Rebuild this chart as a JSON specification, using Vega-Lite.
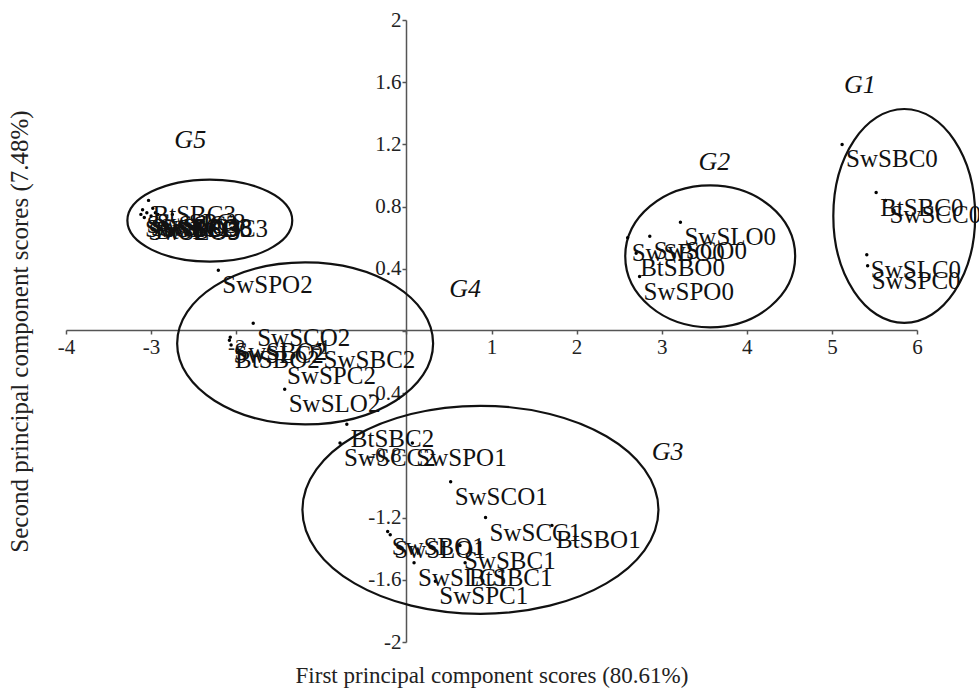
{
  "$schema": "https://vega.github.io/schema/vega-lite/v6.json",
  "width": 851,
  "height": 622,
  "autosize": "none",
  "padding": {"left": 66, "top": 20, "right": 62, "bottom": 55},
  "background": "white",
  "config": {"view": {"stroke": null}, "font": "Liberation Serif", "axis": {"labelFont": "Liberation Serif", "titleFont": "Liberation Serif"}},
  "datasets": {
    "points": [
      {"name": "SwSBC0", "pc1": 5.12, "pc2": 1.2},
      {"name": "BtSBC0", "pc1": 5.52, "pc2": 0.89},
      {"name": "SwSCC0", "pc1": 5.63, "pc2": 0.84},
      {"name": "SwSLC0", "pc1": 5.41, "pc2": 0.49},
      {"name": "SwSPC0", "pc1": 5.42, "pc2": 0.42},
      {"name": "SwSLO0", "pc1": 3.22, "pc2": 0.7},
      {"name": "SwSCO0", "pc1": 2.86, "pc2": 0.61},
      {"name": "SwSBO0", "pc1": 2.6, "pc2": 0.6},
      {"name": "BtSBO0", "pc1": 2.7, "pc2": 0.5},
      {"name": "SwSPO0", "pc1": 2.74, "pc2": 0.35},
      {"name": "SwSPO1", "pc1": 0.07, "pc2": -0.72},
      {"name": "SwSCO1", "pc1": 0.52, "pc2": -0.97},
      {"name": "SwSCC1", "pc1": 0.93, "pc2": -1.2},
      {"name": "BtSBO1", "pc1": 1.71, "pc2": -1.25},
      {"name": "SwSBO1", "pc1": -0.22, "pc2": -1.29},
      {"name": "SwSLO1", "pc1": -0.19, "pc2": -1.31},
      {"name": "SwSBC1", "pc1": 0.63, "pc2": -1.38},
      {"name": "SwSLC1", "pc1": 0.09, "pc2": -1.49},
      {"name": "BtSBC1", "pc1": 0.69, "pc2": -1.49},
      {"name": "SwSPC1", "pc1": 0.34, "pc2": -1.61},
      {"name": "SwSPO2", "pc1": -2.21, "pc2": 0.39},
      {"name": "SwSCO2", "pc1": -1.8, "pc2": 0.05},
      {"name": "SwSBO2", "pc1": -2.07, "pc2": -0.04},
      {"name": "SwSLC2", "pc1": -2.08, "pc2": -0.06},
      {"name": "BtSBO2", "pc1": -2.06, "pc2": -0.09},
      {"name": "SwSBC2", "pc1": -1.02, "pc2": -0.09},
      {"name": "SwSPC2", "pc1": -1.45, "pc2": -0.19},
      {"name": "SwSLO2", "pc1": -1.43, "pc2": -0.375},
      {"name": "BtSBC2", "pc1": -0.7, "pc2": -0.6},
      {"name": "SwSCC2", "pc1": -0.78, "pc2": -0.72},
      {"name": "BtSBC3", "pc1": -3.03, "pc2": 0.84},
      {"name": "SwSBC3", "pc1": -2.75, "pc2": 0.75},
      {"name": "SwSCC3", "pc1": -3.1, "pc2": 0.78},
      {"name": "SwSLC3", "pc1": -3.05, "pc2": 0.76},
      {"name": "SwSPC3", "pc1": -2.98, "pc2": 0.79},
      {"name": "SwSBO3", "pc1": -3.12, "pc2": 0.75},
      {"name": "BtSBO3", "pc1": -3.0, "pc2": 0.74},
      {"name": "SwSCO3", "pc1": -2.95, "pc2": 0.76},
      {"name": "SwSLO3", "pc1": -3.08, "pc2": 0.73},
      {"name": "SwSPO3", "pc1": -2.92, "pc2": 0.75}
    ],
    "groups": [
      {"group": "G1", "cx": 5.85, "cy": 0.74, "lx": 5.33, "ly": 1.58},
      {"group": "G2", "cx": 3.57, "cy": 0.48, "lx": 3.62, "ly": 1.09},
      {"group": "G3", "cx": 0.87, "cy": -1.15, "lx": 3.07, "ly": -0.78},
      {"group": "G4", "cx": -1.19, "cy": -0.08, "lx": 0.69, "ly": 0.27},
      {"group": "G5", "cx": -2.31, "cy": 0.71, "lx": -2.54, "ly": 1.23}
    ]
  },
  "resolve": {"axis": {"x": "independent", "y": "independent"}},
  "layer": [
    {
      "data": {"name": "groups"},
      "mark": {"type": "point", "filled": false, "color": "#111", "strokeWidth": 2.2, "size": 129600, "opacity": 1},
      "encoding": {
        "x": {"field": "cx", "type": "quantitative", "scale": {"domain": [-4, 6], "nice": false, "zero": false},
          "axis": {"orient": "bottom", "domain": false, "ticks": false, "labels": false, "grid": false,
            "title": "First principal component scores (80.61%)", "titleFont": "Liberation Serif", "titleFontSize": 23,
            "titleFontWeight": "normal", "titleColor": "#222", "titlePadding": 22}},
        "y": {"field": "cy", "type": "quantitative", "scale": {"domain": [-2, 2], "nice": false, "zero": false},
          "axis": {"orient": "left", "domain": false, "ticks": false, "labels": false, "grid": false,
            "title": "Second principal component scores (7.48%)", "titleFont": "Liberation Serif", "titleFontSize": 25,
            "titleFontWeight": "normal", "titleColor": "#222", "titlePadding": 34}},
        "shape": {"field": "group", "type": "nominal", "legend": null,
          "scale": {"domain": ["G1", "G2", "G3", "G4", "G5"],
            "range": [
              "M-0.394,0 A0.394,0.594 0 1,1 0.394,0 A0.394,0.594 0 1,1 -0.394,0 Z",
              "M-0.472,0 A0.472,0.394 0 1,1 0.472,0 A0.472,0.394 0 1,1 -0.472,0 Z",
              "M-0.989,0 A0.989,0.578 0 1,1 0.989,0 A0.989,0.578 0 1,1 -0.989,0 Z",
              "M-0.711,0 A0.711,0.45 0 1,1 0.711,0 A0.711,0.45 0 1,1 -0.711,0 Z",
              "M-0.458,0 A0.458,0.228 0 1,1 0.458,0 A0.458,0.228 0 1,1 -0.458,0 Z"
            ]}}
      }
    },
    {
      "data": {"name": "points"},
      "mark": {"type": "point", "filled": true, "color": "black", "size": 12, "opacity": 1},
      "encoding": {
        "x": {"field": "pc1", "type": "quantitative", "scale": {"domain": [-4, 6], "nice": false, "zero": false},
          "axis": {"orient": "bottom", "offset": -312, "values": [-4, -3, -2, -1, 0, 1, 2, 3, 4, 5, 6],
            "labelExpr": "datum.value == 0 ? '' : toString(datum.value)", "title": null, "grid": false,
            "domainColor": "#555", "domainWidth": 1.5, "tickColor": "#555", "tickWidth": 1.5, "tickSize": 4,
            "labelFont": "Liberation Serif", "labelFontSize": 21, "labelColor": "#222", "labelPadding": 2,
            "labelOverlap": false, "labelFlush": false}},
        "y": {"field": "pc2", "type": "quantitative", "scale": {"domain": [-2, 2], "nice": false, "zero": false},
          "axis": {"orient": "left", "offset": -340, "values": [-2, -1.6, -1.2, -0.8, -0.4, 0, 0.4, 0.8, 1.2, 1.6, 2],
            "labelExpr": "datum.value == 0 ? '' : toString(datum.value)", "title": null, "grid": false,
            "domainColor": "#555", "domainWidth": 1.5, "tickColor": "#555", "tickWidth": 1.5, "tickSize": 4,
            "labelFont": "Liberation Serif", "labelFontSize": 21, "labelColor": "#222", "labelPadding": 1,
            "labelOverlap": false, "labelFlush": false}}
      }
    },
    {
      "data": {"name": "points"},
      "mark": {"type": "text", "align": "left", "baseline": "top", "dx": 4, "dy": 3, "font": "Liberation Serif", "fontSize": 25, "color": "#111"},
      "encoding": {
        "x": {"field": "pc1", "type": "quantitative", "axis": null},
        "y": {"field": "pc2", "type": "quantitative", "axis": null},
        "text": {"field": "name"}
      }
    },
    {
      "data": {"name": "groups"},
      "mark": {"type": "text", "align": "center", "baseline": "middle", "font": "Liberation Serif", "fontStyle": "italic", "fontSize": 26, "color": "#111"},
      "encoding": {
        "x": {"field": "lx", "type": "quantitative", "axis": null},
        "y": {"field": "ly", "type": "quantitative", "axis": null},
        "text": {"field": "group"}
      }
    }
  ]
}
